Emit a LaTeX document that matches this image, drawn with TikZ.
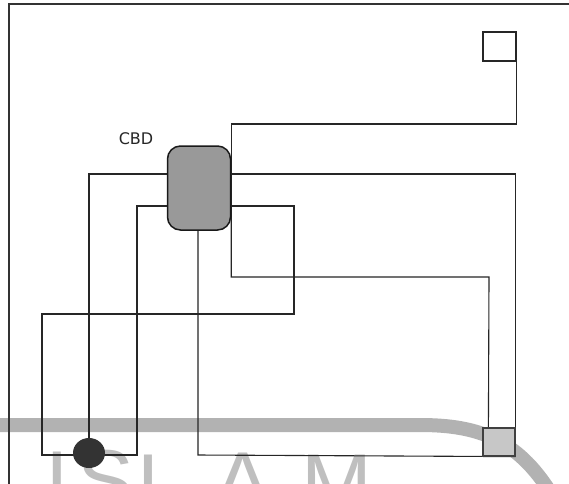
\documentclass[tikz,border=0pt]{standalone}
\usepackage{fontspec}
\setmainfont{DejaVu Sans}
\newfontfamily\wmfont{Liberation Sans}
\usetikzlibrary{shapes.geometric,backgrounds,calc}
\tikzset{
  conn/.style={line width=1.1pt, draw=black!85},
  cbdbox/.style={draw=black!90, line width=1.5pt, fill=black!40, rounded corners=13pt,
    minimum width=63pt, minimum height=84pt, inner sep=0pt},
  sqbox/.style={draw=black!85, line width=1.3pt, fill=white, minimum width=33pt,
    minimum height=29pt, inner sep=0pt},
  hatchbox/.style={draw=black!75, line width=1.2pt, fill=black!22, minimum width=32pt,
    minimum height=28pt, inner sep=0pt},
  blob/.style={ellipse, fill=black!80, minimum width=32pt, minimum height=30pt, inner sep=0pt},
  lbl/.style={font=\fontsize{16}{18}\selectfont, text=black!85, inner sep=0pt},
  wm/.style={font=\wmfont\fontsize{85}{90}\selectfont, text=black!25, inner sep=0pt}
}
\begin{document}
\begin{tikzpicture}[x=1pt,y=-1pt]
\useasboundingbox (0,0) rectangle (569,483);
\clip (0,0) rectangle (569,483);
% nodes
\node[cbdbox] (cbd) at (199,188) {};
\node[sqbox] (topsq) at (499.5,46.5) {};
\node[hatchbox] (hsq) at (499,442) {};
\node[blob] (dot) at (89,453) {};
\node[lbl] (label) at (136,139) {CBD};
% frame
\draw[line width=1.6pt, draw=black!80] (9,490) -- (9,4) -- (575,4);
\begin{scope}[on background layer]
  \clip (0,0) rectangle (569,483);
  \fill[white] (0,0) rectangle (569,483);
  % watermark
  \draw[line width=14pt, draw=black!30] (-10,425) -- (420,425)
     .. controls (480,425) and (520,440) .. (555,500);
  \node[wm, anchor=north] (wI) at (57.5,452) {I};
  \node[wm, anchor=north] (wS) at (106,450) {S};
  \node[wm, anchor=north west] (wL) at (137,455) {L};
  \node[wm, anchor=north] (wA) at (243,453) {A};
  \node[wm, anchor=north] (wM) at (336.5,455) {M};
  % connectors
  \draw[conn] (topsq.south east) -- (topsq.south east |- 0,124) -| (cbd.east);
  \draw[conn] (cbd.east |- 0,174) -| (hsq.north east);
  \draw[conn] (cbd.west |- 0,174) -| (dot.center);
  \draw[conn] (cbd.east |- 0,206) -- (294,206) -- (294,314) -- (42,314)
     -- (42,455) -- (137,455) -- (137,206) -- (cbd.west |- 0,206);
  \draw[conn] (cbd.center -| 198,0) -- (198,455) -- (hsq.south east);
  \draw[conn] (cbd.east) -- (cbd.east |- 0,277) -- (489,277) -- ($(hsq.north west)+(6,0)$);
\end{scope}
\end{tikzpicture}
\end{document}
